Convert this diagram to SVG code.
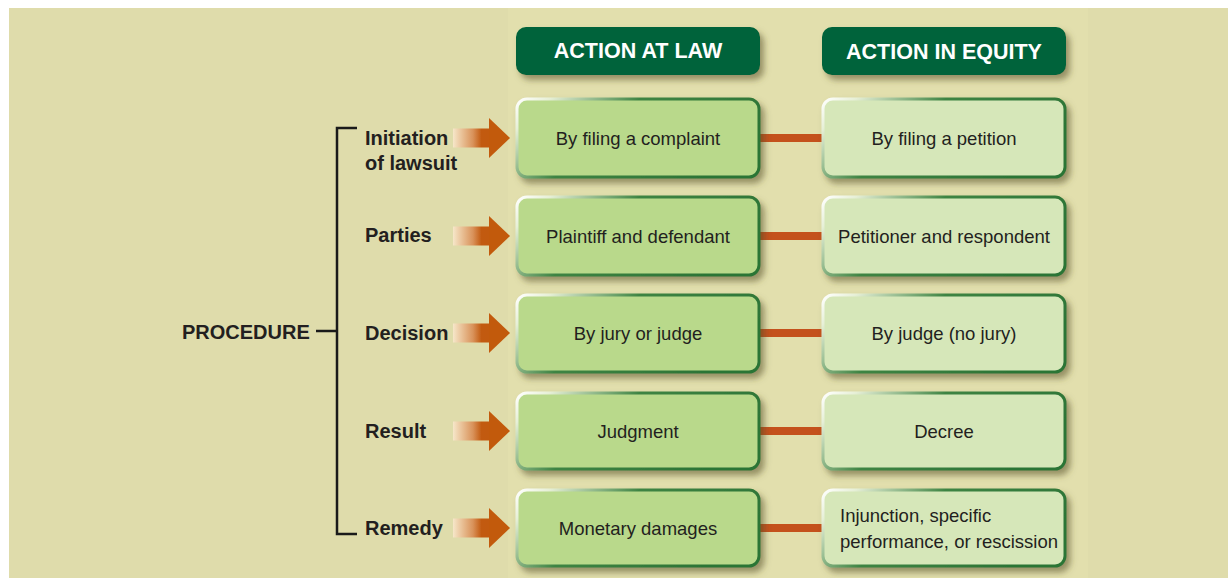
<svg xmlns="http://www.w3.org/2000/svg" width="1228" height="578" viewBox="0 0 1228 578">
<defs>
<filter id="sh" x="-10%" y="-20%" width="130%" height="150%">
<feDropShadow dx="4" dy="5" stdDeviation="3" flood-color="#55502a" flood-opacity="0.55"/>
</filter>
<linearGradient id="edgeL" x1="0" y1="0" x2="1" y2="0.35">
<stop offset="0" stop-color="#ffffff"/>
<stop offset="0.12" stop-color="#e6efd6"/>
<stop offset="0.45" stop-color="#3e8443"/>
<stop offset="1" stop-color="#2c7436"/>
</linearGradient>
<linearGradient id="arr" x1="453" y1="0" x2="510" y2="0" gradientUnits="userSpaceOnUse">
<stop offset="0" stop-color="#f6e7c9"/>
<stop offset="0.35" stop-color="#d9925a"/>
<stop offset="0.5" stop-color="#c25a10"/>
<stop offset="1" stop-color="#c25a0c"/>
</linearGradient>
<g id="arrow">
<rect x="453" y="-9.5" width="37" height="19" fill="url(#arr)"/>
<polygon points="489,-20 510,0 489,20" fill="#c25a0c"/>
</g>
</defs>
<style>
.hdr{fill:#00643a;filter:url(#sh)}
.hdrt{font-family:"Liberation Sans",Arial,sans-serif;font-weight:bold;font-size:21.5px;fill:#ffffff;text-anchor:middle}
.bl{fill:#b9d98b;stroke:url(#edgeL);stroke-width:3;filter:url(#sh)}
.br{fill:#d6e7b9;stroke:url(#edgeL);stroke-width:3;filter:url(#sh)}
.bt{font-family:"Liberation Sans",Arial,sans-serif;font-size:18.5px;fill:#231f20;text-anchor:middle}
.btl{font-family:"Liberation Sans",Arial,sans-serif;font-size:18.5px;fill:#231f20}
.lbl{font-family:"Liberation Sans",Arial,sans-serif;font-weight:bold;font-size:20px;fill:#231f20}
.bar{fill:#c4511c}
.brk{fill:none;stroke:#1a1a1a;stroke-width:2.5}
</style>
<rect x="0" y="0" width="1228" height="578" fill="#ffffff"/>
<rect x="9" y="8" width="1219" height="570" fill="#dfdcab"/>
<rect x="508" y="8" width="580" height="570" fill="#e2dfad"/>

<g id="connectors">
<path class="brk" d="M357,128 H337 V534 H357 M316,331 H337"/>
<rect class="bar" x="758" y="134" width="66" height="8"/>
<rect class="bar" x="758" y="232" width="66" height="8"/>
<rect class="bar" x="758" y="329" width="66" height="8"/>
<rect class="bar" x="758" y="427" width="66" height="8"/>
<rect class="bar" x="758" y="524" width="66" height="8"/>
<use href="#arrow" transform="translate(0,138)"/>
<use href="#arrow" transform="translate(0,236)"/>
<use href="#arrow" transform="translate(0,333)"/>
<use href="#arrow" transform="translate(0,431)"/>
<use href="#arrow" transform="translate(0,528)"/>
</g>

<g id="procedure"><text class="lbl" x="182" y="339">PROCEDURE</text></g>
<g id="label-initiation"><text class="lbl" x="365" y="145">Initiation</text><text class="lbl" x="365" y="170">of lawsuit</text></g>
<g id="label-parties"><text class="lbl" x="365" y="242">Parties</text></g>
<g id="label-decision"><text class="lbl" x="365" y="340">Decision</text></g>
<g id="label-result"><text class="lbl" x="365" y="438">Result</text></g>
<g id="label-remedy"><text class="lbl" x="365" y="535">Remedy</text></g>

<g id="hdr-law"><rect class="hdr" x="516" y="27" width="244" height="48" rx="10"/><text class="hdrt" x="638" y="58">ACTION AT LAW</text></g>
<g id="hdr-equity"><rect class="hdr" x="822" y="27" width="244" height="48" rx="10"/><text class="hdrt" x="944" y="59">ACTION IN EQUITY</text></g>

<g id="law-1"><rect class="bl" x="517" y="99" width="242" height="78" rx="10"/><text class="bt" x="638" y="145">By filing a complaint</text></g>
<g id="law-2"><rect class="bl" x="517" y="197" width="242" height="78" rx="10"/><text class="bt" x="638" y="243">Plaintiff and defendant</text></g>
<g id="law-3"><rect class="bl" x="517" y="295" width="242" height="77" rx="10"/><text class="bt" x="638" y="340">By jury or judge</text></g>
<g id="law-4"><rect class="bl" x="517" y="393" width="242" height="76" rx="10"/><text class="bt" x="638" y="438">Judgment</text></g>
<g id="law-5"><rect class="bl" x="517" y="490" width="242" height="76" rx="10"/><text class="bt" x="638" y="535">Monetary damages</text></g>

<g id="eq-1"><rect class="br" x="823" y="99" width="242" height="78" rx="10"/><text class="bt" x="944" y="145">By filing a petition</text></g>
<g id="eq-2"><rect class="br" x="823" y="197" width="242" height="78" rx="10"/><text class="bt" x="944" y="243">Petitioner and respondent</text></g>
<g id="eq-3"><rect class="br" x="823" y="295" width="242" height="77" rx="10"/><text class="bt" x="944" y="340">By judge (no jury)</text></g>
<g id="eq-4"><rect class="br" x="823" y="393" width="242" height="76" rx="10"/><text class="bt" x="944" y="438">Decree</text></g>
<g id="eq-5"><rect class="br" x="823" y="490" width="242" height="76" rx="10"/><text class="btl" x="840" y="522">Injunction, specific</text><text class="btl" x="840" y="548">performance, or rescission</text></g>
</svg>
